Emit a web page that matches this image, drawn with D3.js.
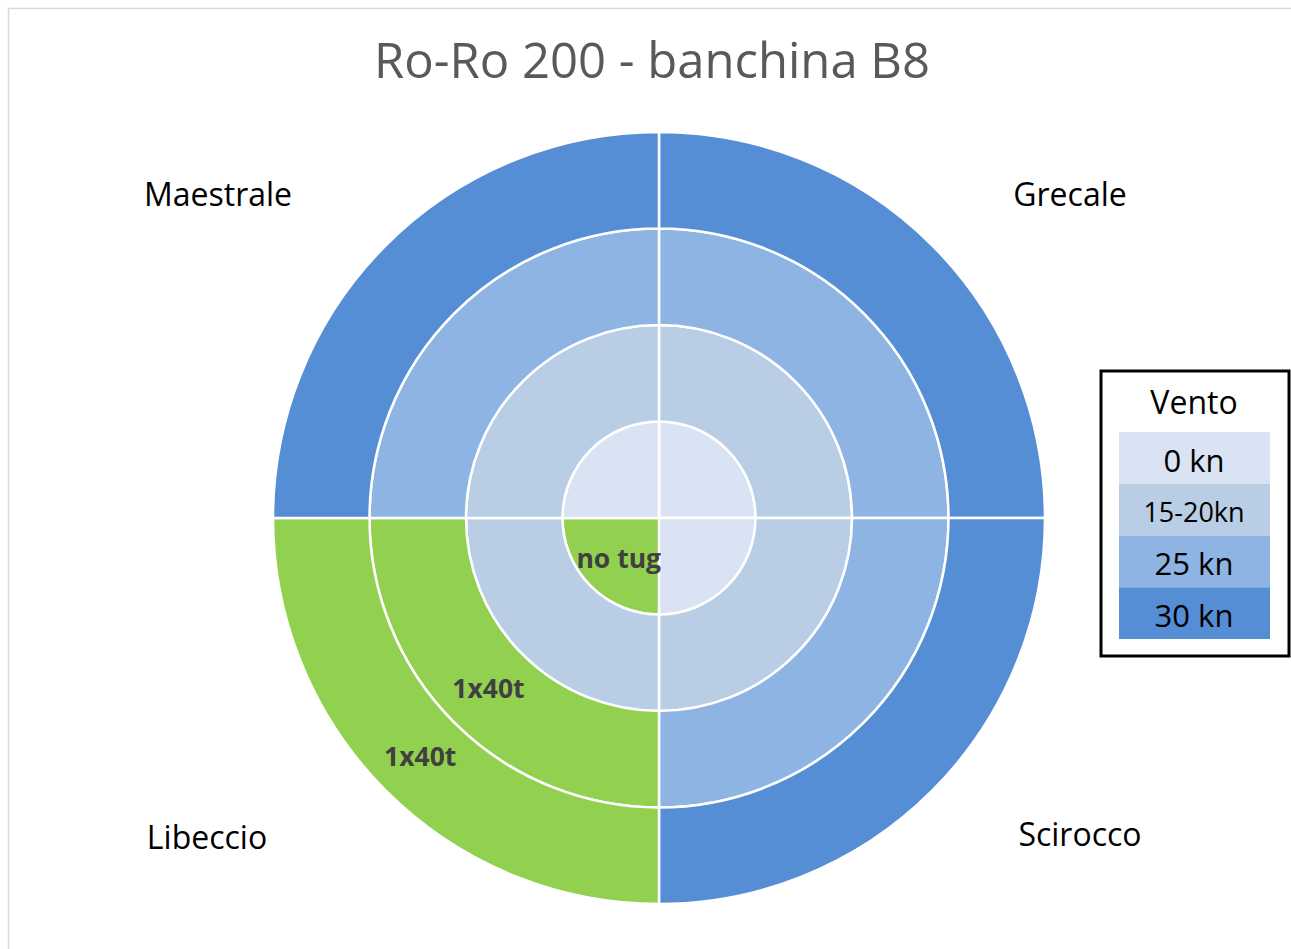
<!DOCTYPE html>
<html>
<head>
<meta charset="utf-8">
<script src="https://cdn.jsdelivr.net/npm/d3@7"></script>
<style>
  body { margin: 0; background: #fff; }
  svg { display: block; font-family: "Open Sans", "Noto Sans", sans-serif; }
</style>
</head>
<body>
<div id="chart"></div>
<script>
// Wind sectors (clockwise from north) and wind rings (inner to outer)
const directions = ["Grecale", "Scirocco", "Libeccio", "Maestrale"];
const windLevels = ["0 kn", "15-20kn", "25 kn", "30 kn"];
const windColors = ["#dae3f3", "#b9cde5", "#8eb4e3", "#558ed5"];
const tugColor = "#92d050";

// Tug requirement per sector, one entry per wind ring ("" = none)
const tugsGrecale   = ["", "", "", ""];
const tugsScirocco  = ["", "", "", ""];
const tugsLibeccio  = ["no tug", "", "1x40t", "1x40t"];
const tugsMaestrale = ["", "", "", ""];
const tugTable = [tugsGrecale, tugsScirocco, tugsLibeccio, tugsMaestrale];

const width = 1291, height = 949;
const cx = 659, cy = 518, outerR = 386;

const svg = d3.select("#chart").append("svg")
    .attr("width", width)
    .attr("height", height);

// chart area border
svg.append("rect")
    .attr("x", 8.5).attr("y", 8.5)
    .attr("width", width).attr("height", height)
    .attr("fill", "none")
    .attr("stroke", "#d9d9d9")
    .attr("stroke-width", 1.5);

svg.append("text")
    .attr("x", 652).attr("y", 78)
    .attr("text-anchor", "middle")
    .style("font-size", "49px")
    .style("fill", "#595959")
    .text("Ro-Ro 200 - banchina B8");

const g = svg.append("g").attr("transform", `translate(${cx},${cy})`);

const rScale = d3.scaleLinear().domain([0, windLevels.length]).range([0, outerR]);

const pie = d3.pie().sort(null).value(() => 1);
const sectors = pie(directions);

const cells = [];
windLevels.forEach((lvl, ri) => {
    sectors.forEach((s, di) => {
        cells.push({
            ring: ri,
            dir: di,
            startAngle: s.startAngle,
            endAngle: s.endAngle,
            label: tugTable[di][ri]
        });
    });
});

const arc = d3.arc()
    .innerRadius(d => rScale(d.ring))
    .outerRadius(d => rScale(d.ring + 1));

// label arc: the innermost (full pie) ring puts its label a bit further out
const labelArc = d3.arc()
    .innerRadius(d => rScale(d.ring === 0 ? 0.59 : d.ring + 0.5))
    .outerRadius(d => rScale(d.ring === 0 ? 0.59 : d.ring + 0.5));

g.selectAll("path.cell")
    .data(cells)
    .join("path")
    .attr("class", "cell")
    .attr("d", arc)
    .attr("fill", d => d.label ? tugColor : windColors[d.ring])
    .attr("stroke", "#fff")
    .attr("stroke-width", 2.5);

g.selectAll("text.tug")
    .data(cells.filter(d => d.label))
    .join("text")
    .attr("class", "tug")
    .attr("transform", d => {
        const c = labelArc.centroid(d);
        return `translate(${c[0]},${c[1]})`;
    })
    .attr("text-anchor", "middle")
    .attr("dy", "0.35em")
    .style("font-size", "26.5px")
    .style("font-weight", "bold")
    .style("fill", "#404040")
    .text(d => d.label);

// direction labels around the rose
const dirOffsets = [[411, -323], [421, 317], [-452, 320], [-441, -323]];
g.selectAll("text.dir")
    .data(directions)
    .join("text")
    .attr("class", "dir")
    .attr("x", (d, i) => dirOffsets[i][0])
    .attr("y", (d, i) => dirOffsets[i][1])
    .attr("text-anchor", "middle")
    .attr("dy", "0.35em")
    .style("font-size", "32px")
    .style("fill", "#000")
    .text(d => d);

// legend
const legend = svg.append("g").attr("transform", "translate(1101,371)");
legend.append("rect")
    .attr("width", 188).attr("height", 285)
    .attr("fill", "#fff")
    .attr("stroke", "#000")
    .attr("stroke-width", 3);
legend.append("text")
    .attr("x", 93).attr("y", 32)
    .attr("text-anchor", "middle")
    .attr("dy", "0.35em")
    .style("font-size", "32px")
    .text("Vento");

const ly = d3.scaleBand().domain(windLevels).range([61, 268]);
const items = legend.selectAll("g.item")
    .data(windLevels)
    .join("g")
    .attr("class", "item")
    .attr("transform", d => `translate(18,${ly(d)})`);
items.append("rect")
    .attr("width", 151)
    .attr("height", ly.bandwidth())
    .attr("fill", (d, i) => windColors[i]);
items.append("text")
    .attr("x", 75).attr("y", ly.bandwidth() / 2 + 3)
    .attr("text-anchor", "middle")
    .attr("dy", "0.35em")
    .style("font-size", (d, i) => i === 1 ? "27px" : "31px")
    .text(d => d);
</script>
</body>
</html>
